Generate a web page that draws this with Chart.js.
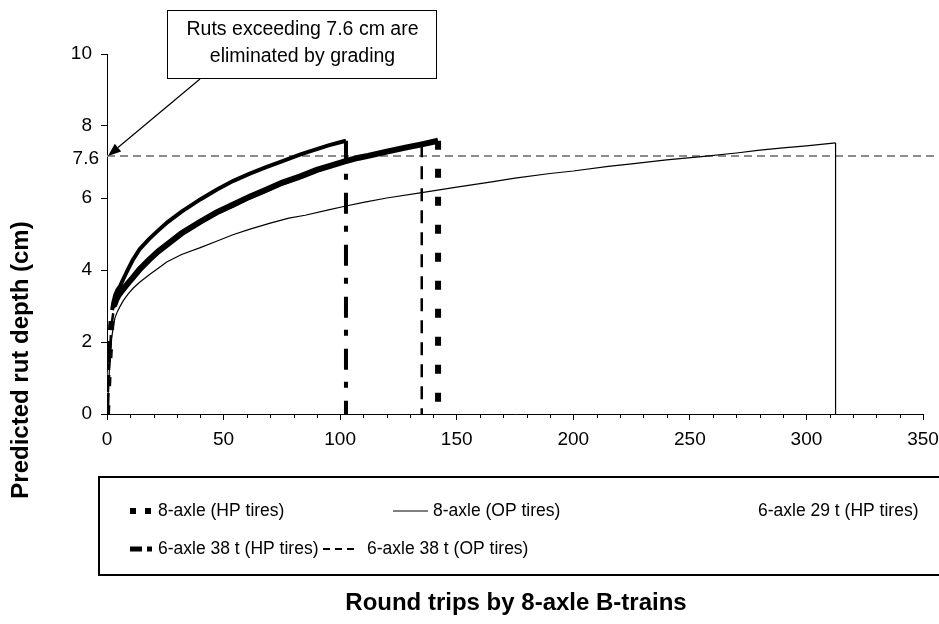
<!DOCTYPE html>
<html>
<head>
<meta charset="utf-8">
<script src="https://cdn.jsdelivr.net/npm/chart.js@4.4.1/dist/chart.umd.min.js"></script>
<style>
html,body{margin:0;padding:0;background:#fff;}
#wrap{width:939px;height:624px;position:relative;}
</style>
</head>
<body>
<div id="wrap"><canvas id="c" width="939" height="624"></canvas></div>
<script>
// ---------- DATA ----------
const seriesNames = ['8-axle (HP tires)', '8-axle (OP tires)', '6-axle 29 t (HP tires)', '6-axle 38 t (HP tires)', '6-axle 38 t (OP tires)'];

const trips8HP = [0, 0.5, 1, 1.5, 2, 3, 4, 5, 6.5, 8, 9.5, 11, 14, 18, 22, 26, 32, 40, 47, 54, 61, 68, 75, 83, 90, 95, 102, 108, 112, 120, 128, 135, 142, 142];
const rut8HP   = [0, 0.8, 1.5, 2.1, 2.6, 3.0, 3.18, 3.3, 3.43, 3.55, 3.67, 3.78, 4.02, 4.28, 4.52, 4.72, 5.02, 5.34, 5.6, 5.81, 6.03, 6.22, 6.42, 6.6, 6.78, 6.88, 7.02, 7.12, 7.17, 7.29, 7.4, 7.49, 7.59, 0];

const trips8OP = [0, 0.5, 1, 1.5, 2, 2.7, 3.4, 4.5, 5.6, 7, 9, 11.3, 14, 18.4, 22, 25.6, 32, 40, 47, 54, 61, 70, 78, 85, 95, 102, 110, 120, 135, 150, 165, 175, 190, 200, 215, 225, 240, 255, 270, 280, 290, 300, 312.5, 312.5];
const rut8OP   = [0, 0.6, 1.2, 1.7, 2.1, 2.43, 2.67, 2.85, 2.99, 3.15, 3.33, 3.5, 3.66, 3.88, 4.05, 4.22, 4.43, 4.62, 4.8, 4.98, 5.13, 5.3, 5.44, 5.52, 5.67, 5.77, 5.88, 6.0, 6.15, 6.3, 6.45, 6.55, 6.68, 6.75, 6.88, 6.95, 7.06, 7.15, 7.25, 7.33, 7.39, 7.45, 7.53, 0];

const trips29HP = [0, 0.5, 1, 1.5, 2, 3, 4, 5, 6.5, 8, 9.5, 11, 14, 18, 22, 26, 32, 40, 47, 54, 61, 68, 75, 83, 90, 95, 102.5];
const rut29HP   = [0, 0.78, 1.47, 2.06, 2.56, 2.97, 3.15, 3.27, 3.4, 3.52, 3.64, 3.75, 3.99, 4.25, 4.49, 4.69, 4.99, 5.31, 5.57, 5.78, 6.0, 6.19, 6.39, 6.57, 6.75, 6.85, 7.0];

const trips38HP = [0, 0.5, 1, 1.5, 2, 2.7, 3.5, 4.5, 5.6, 7, 9, 11, 14, 18, 22, 26, 32, 40, 47, 54, 61, 68, 75, 83, 90, 95, 100, 102.5, 102.5];
const rut38HP   = [0, 0.9, 1.8, 2.4, 2.8, 3.1, 3.3, 3.45, 3.55, 3.75, 4.02, 4.27, 4.58, 4.86, 5.1, 5.33, 5.62, 5.96, 6.23, 6.47, 6.67, 6.85, 7.02, 7.21, 7.36, 7.46, 7.55, 7.59, 0];

const trips38OP = [0, 0.5, 1, 1.5, 2, 3, 4, 5, 6.5, 8, 9.5, 11, 14, 18, 22, 26, 32, 40, 47, 54, 61, 68, 75, 83, 90, 95, 102, 108, 112, 120, 128, 135, 135];
const rut38OP   = [0, 0.75, 1.4, 2.0, 2.5, 2.95, 3.13, 3.25, 3.38, 3.5, 3.62, 3.74, 3.98, 4.24, 4.48, 4.68, 4.98, 5.3, 5.56, 5.77, 5.99, 6.18, 6.38, 6.57, 6.74, 6.85, 7.0, 7.1, 7.16, 7.28, 7.39, 7.49, 0];

const gradeTrips = [0, 357];
const gradeRut   = [7.17, 7.17];
const gradeLabel = '7.6';

const yTickValues = [0, 2, 4, 6, 8, 10];
const xTitle = 'Round trips by 8-axle B-trains';
const yTitle = 'Predicted rut depth (cm)';
const noteLines = ['Ruts exceeding 7.6 cm are', 'eliminated by grading'];

// ---------- HELPERS ----------
const pts = (xs, ys) => xs.map((x, i) => ({x: x, y: ys[i]}));
// dashes show on the steep start of each curve (short dense segments look solid)
const steepDash = pattern => ctx => {
  const dx = ctx.p1.x - ctx.p0.x, dy = ctx.p1.y - ctx.p0.y;
  return (Math.abs(dy) > 4 * Math.abs(dx) && Math.hypot(dx, dy) > 10) ? pattern : [];
};
const FONT = '"Liberation Sans", Arial, sans-serif';

// a series = its curve + (optionally) the final vertical drop drawn with the full dash pattern
function seriesSets(label, xs, ys, st, hasDrop) {
  const all = pts(xs, ys);
  const curve = hasDrop ? all.slice(0, all.length - 1) : all;
  const out = [{
    label: label, data: curve, borderColor: st.color, borderWidth: st.width,
    segment: st.dash.length ? {borderDash: steepDash(st.dash)} : undefined,
    order: st.order, isSeries: true, legendDash: st.legendDash, legendWidth: st.legendWidth
  }];
  if (hasDrop) {
    out.push({label: label + ' drop', data: all.slice(all.length - 2), borderColor: st.color,
      borderWidth: st.width, borderDash: st.dash, order: st.order});
  }
  return out;
}

const datasets = [].concat(
  seriesSets(seriesNames[0], trips8HP, rut8HP, {color: '#000', width: 6, dash: [9, 19], legendDash: [6, 9], legendWidth: 6, order: 3}, true),
  seriesSets(seriesNames[1], trips8OP, rut8OP, {color: '#000', width: 1.2, dash: [], legendDash: [], legendWidth: 1.2, order: 1}, true),
  seriesSets(seriesNames[2], trips29HP, rut29HP, {color: '#fff', width: 2, dash: [], legendDash: [], legendWidth: 2, order: 10}, false),
  seriesSets(seriesNames[3], trips38HP, rut38HP, {color: '#000', width: 4, dash: [21, 12, 6, 13], legendDash: [12, 5, 5, 5], legendWidth: 5, order: 2}, true),
  seriesSets(seriesNames[4], trips38OP, rut38OP, {color: '#000', width: 2.5, dash: [13, 9], legendDash: [7, 5], legendWidth: 2, order: 4}, true),
  [{label: 'grade', data: pts(gradeTrips, gradeRut), borderColor: '#8c8c8c', borderWidth: 2,
    borderDash: [8, 5], order: 9, clip: false}]
);
datasets.forEach(d => { d.pointRadius = 0; d.tension = 0; d.fill = false; d.borderCapStyle = 'butt'; });

// ---------- PLUGIN: extras ----------
const extras = {
  id: 'extras',
  afterDraw(chart) {
    const ctx = chart.ctx;
    const xs = chart.scales.x, ys = chart.scales.y;
    ctx.save();
    // minor x ticks
    ctx.strokeStyle = '#000'; ctx.lineWidth = 1;
    for (let v = 10; v < 350; v += 10) {
      if (v % 50 === 0) continue;
      const px = Math.round(xs.getPixelForValue(v)) + 0.5;
      ctx.beginPath(); ctx.moveTo(px, ys.bottom); ctx.lineTo(px, ys.bottom + 4); ctx.stroke();
    }
    // 7.6 label
    const gy = ys.getPixelForValue(gradeRut[0]);
    ctx.fillStyle = '#000';
    ctx.font = '19px ' + FONT;
    ctx.textAlign = 'right'; ctx.textBaseline = 'middle';
    ctx.fillText(gradeLabel, 99, gy + 3);
    // annotation box
    const bx = 167, by = 10, bw = 269, bh = 68;
    ctx.fillStyle = '#fff'; ctx.fillRect(bx, by, bw, bh);
    ctx.strokeStyle = '#000'; ctx.lineWidth = 1;
    ctx.strokeRect(bx + 0.5, by + 0.5, bw, bh);
    ctx.fillStyle = '#000';
    ctx.font = '19.5px ' + FONT;
    ctx.textAlign = 'center'; ctx.textBaseline = 'alphabetic';
    ctx.fillText(noteLines[0], bx + bw / 2 + 1, 35);
    ctx.fillText(noteLines[1], bx + bw / 2 + 1, 62);
    // arrow
    const tipX = xs.getPixelForValue(0) + 1, tipY = gy;
    const sx = 200, sy = by + bh + 1;
    const ang = Math.atan2(tipY - sy, tipX - sx);
    const hl = 13, hw = 5;
    const baseX = tipX - hl * Math.cos(ang), baseY = tipY - hl * Math.sin(ang);
    ctx.beginPath(); ctx.moveTo(sx, sy); ctx.lineTo(baseX, baseY); ctx.lineWidth = 1.2; ctx.stroke();
    ctx.beginPath();
    ctx.moveTo(tipX, tipY);
    ctx.lineTo(baseX + hw * Math.sin(ang), baseY - hw * Math.cos(ang));
    ctx.lineTo(baseX - hw * Math.sin(ang), baseY + hw * Math.cos(ang));
    ctx.closePath(); ctx.fill();
    // axis titles
    ctx.font = 'bold 24px ' + FONT;
    ctx.textAlign = 'center'; ctx.textBaseline = 'middle';
    ctx.fillText(xTitle, (xs.left + xs.right) / 2 + 1, 603);
    ctx.save();
    ctx.translate(21, 360); ctx.rotate(-Math.PI / 2);
    ctx.fillText(yTitle, 0, 0);
    ctx.restore();
    // legend box
    ctx.lineWidth = 2; ctx.strokeStyle = '#000';
    ctx.strokeRect(99, 477, 860, 98);
    const series = chart.data.datasets.filter(d => d.isSeries);
    const items = [
      {i: 0, x1: 130, x2: 153, tx: 158, y: 511},
      {i: 1, x1: 393, x2: 428, tx: 433, y: 511},
      {i: 2, x1: 720, x2: 753, tx: 758, y: 511},
      {i: 3, x1: 130, x2: 153, tx: 158, y: 549},
      {i: 4, x1: 323, x2: 357, tx: 367, y: 549}
    ];
    ctx.font = '17.5px ' + FONT;
    ctx.textAlign = 'left'; ctx.textBaseline = 'middle';
    items.forEach(it => {
      const d = series[it.i];
      ctx.save();
      ctx.strokeStyle = d.borderColor; ctx.lineWidth = d.legendWidth;
      ctx.setLineDash(d.legendDash); ctx.lineCap = 'butt';
      ctx.beginPath(); ctx.moveTo(it.x1, it.y); ctx.lineTo(it.x2, it.y); ctx.stroke();
      ctx.restore();
      ctx.fillStyle = '#000';
      ctx.fillText(d.label, it.tx, it.y);
    });
    ctx.restore();
  }
};

new Chart(document.getElementById('c'), {
  type: 'line',
  data: {datasets: datasets},
  options: {
    responsive: false,
    devicePixelRatio: 1,
    animation: false,
    layout: {padding: {left: 0, right: 16, top: 54, bottom: 0}},
    plugins: {legend: {display: false}, tooltip: {enabled: false}},
    scales: {
      x: {
        type: 'linear', min: 0, max: 350,
        ticks: {stepSize: 50, color: '#000', font: {family: FONT, size: 19}, padding: 8, maxRotation: 0},
        grid: {drawOnChartArea: false, drawTicks: true, tickLength: 6, tickColor: '#000'},
        border: {display: true, color: '#000', width: 1},
        afterFit(s) { s.height = 210; s.paddingLeft = 0; s.paddingRight = 0; }
      },
      y: {
        type: 'linear', min: 0, max: 10,
        afterBuildTicks(s) { s.ticks = yTickValues.map(v => ({value: v})); },
        ticks: {color: '#000', font: {family: FONT, size: 19}, padding: 9},
        grid: {drawOnChartArea: false, drawTicks: true, tickLength: 6, tickColor: '#000'},
        border: {display: true, color: '#000', width: 1},
        afterFit(s) { s.width = 107; s.paddingTop = 0; s.paddingBottom = 0; }
      }
    }
  },
  plugins: [extras]
});
</script>
</body>
</html>
